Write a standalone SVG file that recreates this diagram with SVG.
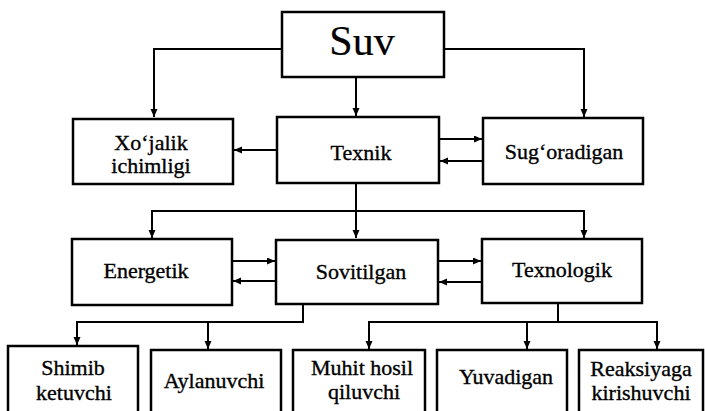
<svg xmlns="http://www.w3.org/2000/svg" width="705" height="411" viewBox="0 0 705 411">
<defs>
<marker id="ah" markerUnits="userSpaceOnUse" markerWidth="9" markerHeight="8" refX="8" refY="3.5" orient="auto">
<path d="M0,0 L8,3.5 L0,7 z" fill="#000"/>
</marker>
<style>
.box{fill:#fff;stroke:#000;stroke-width:2.5}
.t{font-family:"Liberation Serif","Times New Roman",serif;font-size:22px;fill:#000;stroke:#000;stroke-width:0.35;text-anchor:middle}
.big{font-size:42px;stroke-width:0.2}
.c{fill:none;stroke:#000;stroke-width:2}
.a{marker-end:url(#ah)}
</style>
</defs>
<rect width="705" height="411" fill="#fff"/>
<g id="connectors">
<path class="c a" d="M282,49 H154 V117"/>
<path class="c a" d="M444,49 H584 V117"/>
<path class="c a" d="M356,77 V116"/>
<path class="c a" d="M277,150 H234"/>
<path class="c a" d="M439,139 H482"/>
<path class="c a" d="M483,161 H440"/>
<path class="c a" d="M356,183 V238"/>
<path class="c a" d="M356,211 H152 V238"/>
<path class="c a" d="M356,211 H584 V238"/>
<path class="c a" d="M232,261 H275"/>
<path class="c a" d="M276,281 H233"/>
<path class="c a" d="M438,261 H481"/>
<path class="c a" d="M482,282 H439"/>
<path class="c a" d="M303,304 V322 H77 V345"/>
<path class="c a" d="M208,322 V349"/>
<path class="c a" d="M558,303 V322 H369 V349"/>
<path class="c a" d="M527,322 V349"/>
<path class="c a" d="M558,322 H657 V349"/>
</g>
<g id="suv"><rect class="box" x="282" y="12" width="162" height="65"/><text class="t big" x="362" y="55">Suv</text></g>
<g id="xojalik"><rect class="box" x="73" y="119" width="160" height="65"/><text class="t" x="151" y="150">Xo‘jalik</text><text class="t" x="151" y="173">ichimligi</text></g>
<g id="texnik"><rect class="box" x="277" y="117" width="162" height="66"/><text class="t" x="361" y="160">Texnik</text></g>
<g id="sugoradigan"><rect class="box" x="483" y="118" width="160" height="66"/><text class="t" x="564" y="159">Sug‘oradigan</text></g>
<g id="energetik"><rect class="box" x="72" y="239" width="160" height="66"/><text class="t" x="146" y="278">Energetik</text></g>
<g id="sovitilgan"><rect class="box" x="276" y="240" width="162" height="64"/><text class="t" x="361" y="279">Sovitilgan</text></g>
<g id="texnologik"><rect class="box" x="482" y="239" width="160" height="64"/><text class="t" x="562" y="277">Texnologik</text></g>
<g id="shimib"><rect class="box" x="8" y="346" width="130" height="70"/><text class="t" x="73" y="375">Shimib</text><text class="t" x="74" y="400">ketuvchi</text></g>
<g id="aylanuvchi"><rect class="box" x="151" y="350" width="130" height="66"/><text class="t" x="214" y="388">Aylanuvchi</text></g>
<g id="muhit"><rect class="box" x="293" y="350" width="132" height="66"/><text class="t" x="362" y="375">Muhit hosil</text><text class="t" x="364" y="399">qiluvchi</text></g>
<g id="yuvadigan"><rect class="box" x="437" y="350" width="130" height="66"/><text class="t" x="506" y="384">Yuvadigan</text></g>
<g id="reaksiyaga"><rect class="box" x="579" y="350" width="124" height="66"/><text class="t" x="641" y="376">Reaksiyaga</text><text class="t" x="641" y="400">kirishuvchi</text></g>
</svg>
